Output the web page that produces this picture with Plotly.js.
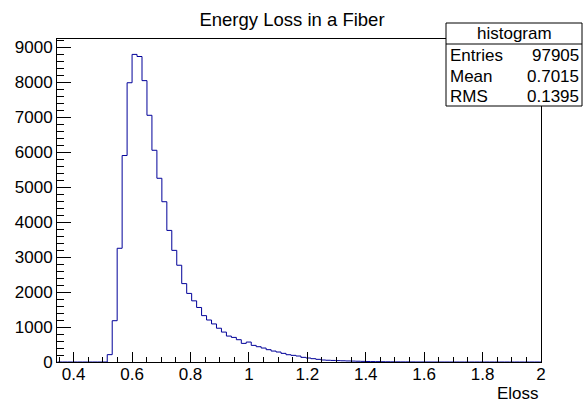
<!DOCTYPE html>
<html>
<head>
<meta charset="utf-8">
<script src="https://cdn.plot.ly/plotly-3.0.1.min.js"></script>
<style>html,body{margin:0;padding:0;background:#fff;}#chart{width:584px;height:405px;}</style>
</head>
<body>
<div id="chart"></div>
<script>
// Histogram definition (bin edges) and bin contents
const binLow = 0.345;
const binWidth = 0.017;
const counts = [
  0,0,0,0,0,0,0,0,0,0,
  210,1180,3250,5900,7980,8790,8730,8040,7050,6050,
  5250,4580,3760,3190,2765,2240,1960,1748,1558,1325,
  1200,1088,965,855,741,703,637,532,570,475,
  437,399,352,313,285,247,208,190,171,133,
  114,95,76,57,50,45,40,35,30,26,
  22,18,15,12,10,8,6,5,4,3,
  3,2,1,1,1,0,0,0,0,0,
  0,0,0,0,0,0,0,0,0,0,
  0,0,0,0,0,0,0,0
];
const titleText = "Energy Loss in a Fiber";
const xTitle = "Eloss";
const statsName = "histogram";
const statsLabels = ["Entries", "Mean", "RMS"];
const statsValues = ["97905", "0.7015", "0.1395"];

const edges = counts.map((c, i) => binLow + i * binWidth).concat([binLow + counts.length * binWidth]);
const ys = counts.concat([counts[counts.length - 1]]);

const W = 584, H = 405;
const mL = 57, mR = 43, mT = 39, mB = 43;
const pw = W - mL - mR, ph = H - mT - mB;
const px = x => (x - mL) / pw;
const py = y => (H - mB - y) / ph;

const font = "Liberation Sans, Arial, Helvetica, sans-serif";
const fs = 17;

const trace = {
  x: edges, y: ys, type: "scatter", mode: "lines",
  line: {shape: "hv", color: "#000099", width: 1},
  hoverinfo: "skip", showlegend: false
};

const boxL = 446, boxR = 582, boxT = 23, boxB = 106, sepY = 44;
const rowY = [55, 76, 97];

const annotations = [
  {xref: "paper", yref: "paper", x: px(541), y: py(393), xanchor: "right", yanchor: "middle",
   text: xTitle, showarrow: false, font: {family: font, size: fs, color: "#000"}},
  {xref: "paper", yref: "paper", x: px((boxL + boxR) / 2), y: py(33), xanchor: "center", yanchor: "middle",
   text: statsName, showarrow: false, font: {family: font, size: fs, color: "#000"}}
];
statsLabels.forEach((lab, i) => {
  annotations.push({xref: "paper", yref: "paper", x: px(boxL + 2), y: py(rowY[i]), xanchor: "left", yanchor: "middle",
    text: lab, showarrow: false, font: {family: font, size: fs, color: "#000"}});
  annotations.push({xref: "paper", yref: "paper", x: px(boxR - 1), y: py(rowY[i]), xanchor: "right", yanchor: "middle",
    text: statsValues[i], showarrow: false, font: {family: font, size: fs, color: "#000"}});
});

const shapes = [
  {type: "rect", xref: "paper", yref: "paper", x0: px(boxL), x1: px(boxR), y0: py(boxB), y1: py(boxT),
   line: {color: "#000", width: 1}, fillcolor: "#fff", layer: "above"},
  {type: "line", xref: "paper", yref: "paper", x0: px(boxL), x1: px(boxR), y0: py(sepY), y1: py(sepY),
   line: {color: "#000", width: 1}, layer: "above"}
];

const layout = {
  width: W, height: H,
  margin: {l: mL, r: mR, t: mT, b: mB, pad: 0},
  paper_bgcolor: "#fff", plot_bgcolor: "#fff",
  title: {text: titleText, xref: "container", x: 0.5, xanchor: "center",
          yref: "container", y: 1 - 20 / H, yanchor: "middle",
          font: {family: font, size: 18.5, color: "#000"}},
  xaxis: {
    range: [0.343, 2.0], tick0: 0.4, dtick: 0.2, ticks: "inside", ticklen: 10, tickwidth: 1, tickcolor: "#000",
    showline: true, linecolor: "#000", linewidth: 1, mirror: true, showgrid: false, zeroline: false,
    ticklabelstandoff: -3,
    tickfont: {family: font, size: fs, color: "#000"},
    minor: {tick0: 0.4, dtick: 0.05, ticks: "inside", ticklen: 5, tickwidth: 1, tickcolor: "#000", showgrid: false}
  },
  yaxis: {
    range: [0, 9230], tick0: 0, dtick: 1000, ticks: "inside", ticklen: 14, tickwidth: 1, tickcolor: "#000",
    showline: true, linecolor: "#000", linewidth: 1, mirror: true, showgrid: false, zeroline: false,
    tickfont: {family: font, size: fs, color: "#000"},
    minor: {tick0: 0, dtick: 200, ticks: "inside", ticklen: 7, tickwidth: 1, tickcolor: "#000", showgrid: false}
  },
  annotations: annotations,
  shapes: shapes
};

Plotly.newPlot("chart", [trace], layout, {staticPlot: true, displayModeBar: false});
</script>
</body>
</html>
